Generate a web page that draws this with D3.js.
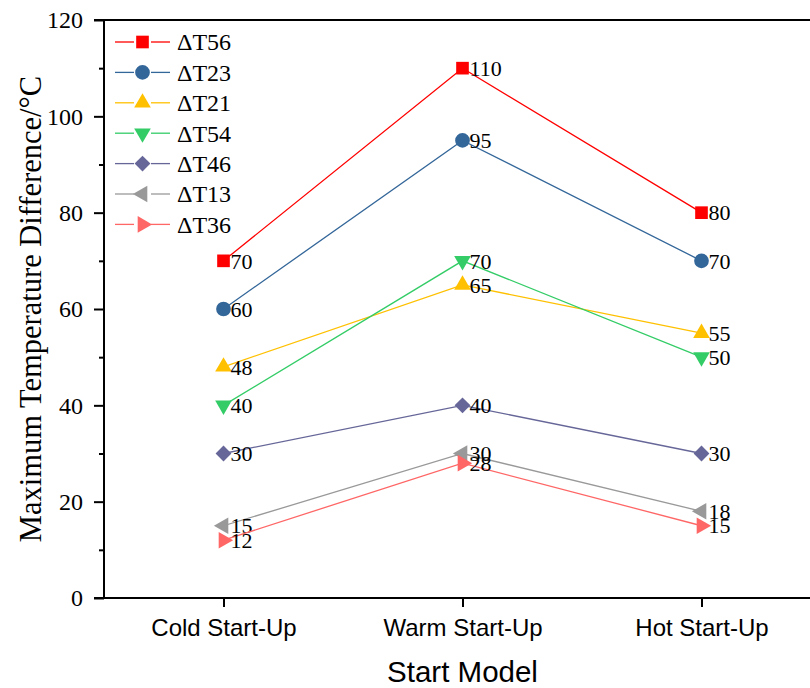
<!DOCTYPE html>
<html lang="en">
<head>
  <meta charset="UTF-8">
  <title>Maximum Temperature Difference by Start Model</title>
  <script src="https://d3js.org/d3.v7.min.js"></script>
  <style>
    body { margin: 0; background: #fff; }
    svg { display: block; }
    .serif, .serif text { font-family: 'Liberation Serif', 'Times New Roman', serif; }
    .sans, .sans text { font-family: 'Liberation Sans', Arial, sans-serif; }
  </style>
</head>
<body>
<svg width="810" height="688"></svg>
<script>
  // chart data
  const startModels = ["Cold Start-Up", "Warm Start-Up", "Hot Start-Up"];
  const seriesNames = ["ΔT56", "ΔT23", "ΔT21", "ΔT54", "ΔT46", "ΔT13", "ΔT36"];
  const dT56 = [70, 110, 80];
  const dT23 = [60, 95, 70];
  const dT21 = [48, 65, 55];
  const dT54 = [40, 70, 50];
  const dT46 = [30, 40, 30];
  const dT13 = [15, 30, 18];
  const dT36 = [12, 28, 15];
  const yTicks = [0, 20, 40, 60, 80, 100, 120];

  const seriesValues = [dT56, dT23, dT21, dT54, dT46, dT13, dT36];
  const colors = ["#ff0000", "#336699", "#ffc000", "#33cc66", "#666699", "#999999", "#ff6666"];
  const shapes = ["square", "circle", "up", "down", "diamond", "left", "right"];

  const margin = {top: 20, right: -11, bottom: 90, left: 104};
  const width = 810 - margin.left - margin.right,
        height = 688 - margin.top - margin.bottom;

  const svg = d3.select("svg");
  const g = svg.append("g").attr("transform", `translate(${margin.left},${margin.top})`);

  const x = d3.scalePoint().domain(startModels).range([0, width]).padding(0.5);
  const y = d3.scaleLinear().domain([0, 120]).range([height, 0]);

  // marker path generator
  function marker(shape) {
    const sym = {
      square: d3.symbol(d3.symbolSquare, 160),
      circle: d3.symbol(d3.symbolCircle, 170),
      up: d3.symbol(d3.symbolTriangle, 120),
      down: d3.symbol(d3.symbolTriangle, 120),
      left: d3.symbol(d3.symbolTriangle, 120),
      right: d3.symbol(d3.symbolTriangle, 120),
      diamond: d3.symbol(d3.symbolSquare, 125)
    }[shape];
    const rot = {square: 0, circle: 0, up: 0, down: 180, left: -90, right: 90, diamond: 45}[shape];
    return {d: sym(), rot: rot};
  }

  // axes
  const yAxis = g.append("g").attr("class", "serif")
    .call(d3.axisLeft(y).tickValues(yTicks).tickSize(10).tickPadding(11));
  yAxis.attr("font-family", null);
  yAxis.selectAll("text").style("font-size", "24px").attr("fill", "#000");
  yAxis.selectAll("line").attr("stroke-width", 2);
  yAxis.select(".domain").remove();
  g.append("g")
    .call(d3.axisLeft(y).tickValues(d3.range(10, 120, 20)).tickSize(5).tickFormat(""))
    .call(s => s.select(".domain").remove())
    .selectAll("line").attr("stroke-width", 2);

  const xAxis = g.append("g").attr("class", "sans")
    .attr("transform", `translate(0,${height})`)
    .call(d3.axisBottom(x).tickSize(9).tickPadding(12));
  xAxis.attr("font-family", null);
  xAxis.selectAll("text").style("font-size", "24px").attr("fill", "#000");
  xAxis.selectAll("line").attr("stroke-width", 2);
  xAxis.select(".domain").remove();

  // frame lines
  g.append("line").attr("x1", 0).attr("x2", 0).attr("y1", -1).attr("y2", height + 1)
    .attr("stroke", "#000").attr("stroke-width", 2);
  g.append("line").attr("x1", -10).attr("x2", width).attr("y1", height).attr("y2", height)
    .attr("stroke", "#000").attr("stroke-width", 2);
  g.append("line").attr("x1", -10).attr("x2", width).attr("y1", 0).attr("y2", 0)
    .attr("stroke", "#000").attr("stroke-width", 2);

  // series
  const line = d3.line().x((d, i) => x(startModels[i])).y(d => y(d));
  seriesValues.forEach((vals, k) => {
    const m = marker(shapes[k]);
    g.append("path").datum(vals)
      .attr("d", line)
      .attr("fill", "none")
      .attr("stroke", colors[k])
      .attr("stroke-width", 1.3);
    g.selectAll(null).data(vals).enter().append("path")
      .attr("d", m.d)
      .attr("fill", colors[k])
      .attr("transform", (d, i) => `translate(${x(startModels[i])},${y(d)}) rotate(${m.rot})`);
    g.selectAll(null).data(vals).enter().append("text")
      .attr("class", "serif")
      .attr("x", (d, i) => x(startModels[i]) + 7)
      .attr("y", d => y(d))
      .attr("dy", "0.35em")
      .style("font-size", "22px")
      .attr("fill", "#000")
      .text(d => d);
  });

  // legend (line segments leave a small gap around the marker)
  const legend = g.append("g").attr("transform", "translate(11,22)");
  seriesNames.forEach((name, k) => {
    const m = marker(shapes[k]);
    const row = legend.append("g").attr("transform", `translate(0,${k * 30.4})`);
    [[0, 19], [36, 55]].forEach(([a, b]) => {
      row.append("line").attr("x1", a).attr("x2", b).attr("y1", 0).attr("y2", 0)
        .attr("stroke", colors[k]).attr("stroke-width", 1.3);
    });
    row.append("path").attr("d", m.d).attr("fill", colors[k])
      .attr("transform", `translate(27.5,0) rotate(${m.rot})`);
    row.append("text").attr("class", "serif")
      .attr("x", 62).attr("dy", "0.35em")
      .style("font-size", "24px").attr("fill", "#000")
      .text(name);
  });

  // axis titles
  svg.append("text").attr("class", "serif")
    .attr("transform", `translate(41,${margin.top + height / 2}) rotate(-90)`)
    .attr("text-anchor", "middle")
    .style("font-size", "30.5px")
    .text("Maximum Temperature Difference/°C");

  svg.append("text").attr("class", "sans")
    .attr("x", margin.left + x("Warm Start-Up"))
    .attr("y", 682)
    .attr("text-anchor", "middle")
    .style("font-size", "29.5px")
    .text("Start Model");
</script>
</body>
</html>
